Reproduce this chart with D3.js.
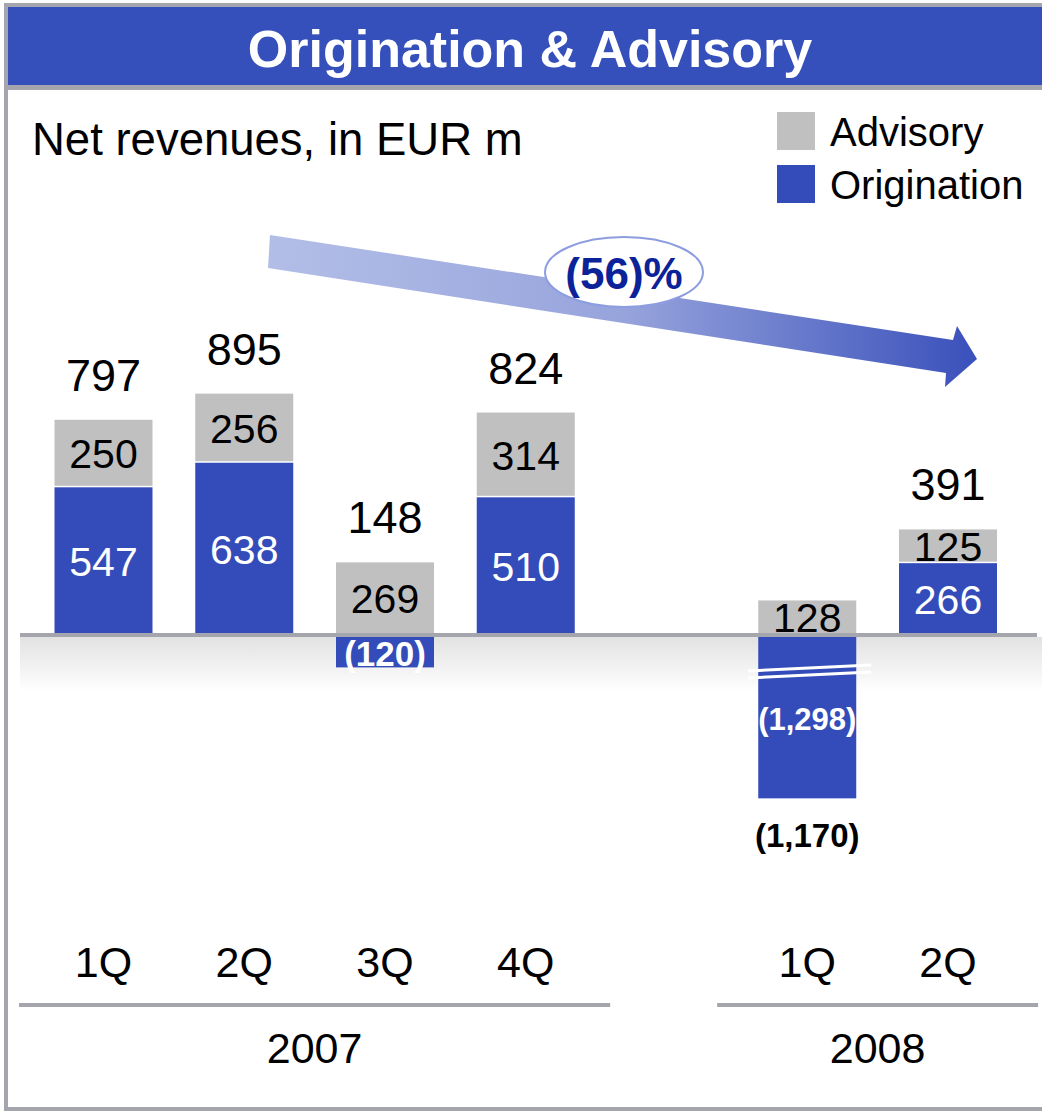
<!DOCTYPE html>
<html>
<head>
<meta charset="utf-8">
<script src="https://cdn.jsdelivr.net/npm/d3@7"></script>
<style>
  body { margin: 0; background: #fff; }
  svg { display: block; font-family: "Liberation Sans", Arial, sans-serif; }
</style>
</head>
<body>
<div id="chart"></div>
<script>
// data
var quarters = ["1Q", "2Q", "3Q", "4Q", "1Q", "2Q"];
var years = ["2007", "2007", "2007", "2007", "2008", "2008"];
var origination = [547, 638, -120, 510, -1298, 266];
var advisory = [250, 256, 269, 314, 128, 125];
var totals = [797, 895, 148, 824, -1170, 391];
var changeLabel = "(56)%";

var width = 1042, height = 1111;
var blue = "#344cba", grey = "#c0c0c0", frameGrey = "#a5a5ae";

var svg = d3.select("#chart").append("svg")
    .attr("width", width)
    .attr("height", height);

var defs = svg.append("defs");
var shade = defs.append("linearGradient").attr("id", "shade")
    .attr("x1", 0).attr("y1", 0).attr("x2", 0).attr("y2", 1);
shade.append("stop").attr("offset", 0).attr("stop-color", "#e2e2e2");
shade.append("stop").attr("offset", 1).attr("stop-color", "#ffffff");
var arrowGrad = defs.append("linearGradient").attr("id", "arrowGrad")
    .attr("x1", 0).attr("y1", 0).attr("x2", 1).attr("y2", 0);
arrowGrad.append("stop").attr("offset", 0).attr("stop-color", "#b3bee7");
arrowGrad.append("stop").attr("offset", 0.5).attr("stop-color", "#97a4dc");
arrowGrad.append("stop").attr("offset", 1).attr("stop-color", "#3a50bb");

// slot keys, one empty slot between the years
var keys = quarters.map(function (q, i) { return years[i] + " " + q; });
var slotKeys = keys.slice(0, 4).concat(["gap"], keys.slice(4));

var x = d3.scalePoint().domain(slotKeys).range([103.5, 948]);
var barW = 98;

// broken axis: values below breakAt are clamped
var breakAt = -605;
var y = d3.scaleLinear().domain([breakAt, 1000]).range([635 + 605 * 0.27, 365]).clamp(true);

// frame + title
svg.append("rect").attr("x", 6).attr("y", 5).attr("width", width).attr("height", 1104)
    .attr("fill", "none").attr("stroke", frameGrey).attr("stroke-width", 4);
svg.append("rect").attr("x", 8).attr("y", 7).attr("width", width).attr("height", 78)
    .attr("fill", "#3550bb");
svg.append("line").attr("x1", 8).attr("x2", width).attr("y1", 87.5).attr("y2", 87.5)
    .attr("stroke", frameGrey).attr("stroke-width", 5);
svg.append("text").attr("x", 530).attr("y", 67)
    .attr("text-anchor", "middle").attr("fill", "#fff")
    .attr("font-size", 52).attr("font-weight", "bold")
    .text("Origination & Advisory");

svg.append("text").attr("x", 32).attr("y", 155)
    .attr("font-size", 45.5).text("Net revenues, in EUR m");

// legend
var legend = [["Advisory", grey], ["Origination", blue]];
legend.forEach(function (l, i) {
    var g = svg.append("g").attr("transform", "translate(777," + (112 + i * 53) + ")");
    g.append("rect").attr("width", 38).attr("height", 38).attr("fill", l[1]);
    g.append("text").attr("x", 53).attr("y", 34).attr("font-size", 40).text(l[0]);
});

// shading below zero line
svg.append("rect").attr("x", 20).attr("y", y(0) + 2).attr("width", width - 20).attr("height", 55)
    .attr("fill", "url(#shade)");

// trend arrow
var arrowPts = [[270, 235], [953, 340], [957, 326], [977, 359], [945, 387], [946, 373], [268, 268]];
svg.append("path").attr("d", d3.line()(arrowPts) + "Z").attr("fill", "url(#arrowGrad)");
svg.append("ellipse").attr("cx", 624).attr("cy", 272).attr("rx", 79).attr("ry", 35)
    .attr("fill", "#fff").attr("stroke", "#8d9de0").attr("stroke-width", 2);
svg.append("text").attr("x", 624).attr("y", 289).attr("text-anchor", "middle")
    .attr("font-size", 44).attr("font-weight", "bold").attr("fill", "#0b2299")
    .text(changeLabel);

// bars
var rows = keys.map(function (k, i) {
    var o = origination[i], a = advisory[i];
    var oLo = Math.min(0, o), oHi = Math.max(0, o);
    var aLo = Math.max(0, o), aHi = aLo + a;
    return { key: k, o: o, a: a, t: totals[i], oLo: oLo, oHi: oHi, aLo: aLo, aHi: aHi };
});

var bars = svg.append("g").selectAll("g").data(rows).enter().append("g")
    .attr("transform", function (d) { return "translate(" + (x(d.key) - barW / 2) + ",0)"; });

bars.append("rect")
    .attr("y", function (d) { return y(d.oHi); })
    .attr("height", function (d) { return y(d.oLo) - y(d.oHi); })
    .attr("width", barW).attr("fill", blue);
bars.append("rect")
    .attr("y", function (d) { return y(d.aHi); })
    .attr("height", function (d) { return y(d.aLo) - y(d.aHi) - (d.o > 0 ? 1.5 : 0); })
    .attr("width", barW).attr("fill", grey);

// zero line
svg.append("line").attr("x1", 20).attr("x2", 1037).attr("y1", y(0)).attr("y2", y(0))
    .attr("stroke", frameGrey).attr("stroke-width", 4);

// break marks on clamped bars
bars.filter(function (d) { return d.o < breakAt; }).each(function () {
    var g = d3.select(this);
    [0, 7].forEach(function (off) {
        g.append("line").attr("x1", -10).attr("x2", barW + 15)
            .attr("y1", y(0) + 36 + off).attr("y2", y(0) + 30 + off)
            .attr("stroke", "#fff").attr("stroke-width", 3);
    });
});

var fmt = d3.format(",");
function neg(v) { return "(" + fmt(-v) + ")"; }

// segment labels
bars.append("text")
    .attr("x", barW / 2).attr("text-anchor", "middle")
    .attr("y", function (d) { return (y(d.aLo) + y(d.aHi)) / 2; })
    .attr("dy", "0.36em").attr("font-size", 41).attr("fill", "#000")
    .text(function (d) { return fmt(d.a); });
bars.append("text")
    .attr("x", barW / 2).attr("text-anchor", "middle")
    .attr("y", function (d) { return (y(d.oLo) + y(d.oHi)) / 2 + (d.o < 0 ? 2 : 0); })
    .attr("dy", "0.36em").attr("fill", "#fff")
    .attr("font-size", function (d) { return d.o < 0 ? (d.o < breakAt ? 31 : 35) : 41; })
    .attr("font-weight", function (d) { return d.o < 0 ? "bold" : null; })
    .text(function (d) { return d.o < 0 ? neg(d.o) : fmt(d.o); });

// totals
bars.append("text")
    .attr("x", barW / 2).attr("text-anchor", "middle")
    .attr("y", function (d) { return d.t >= 0 ? y(d.aHi) - 29 : y(d.oLo) + 49; })
    .attr("font-size", function (d) { return d.t >= 0 ? 45 : 33; })
    .attr("font-weight", function (d) { return d.t >= 0 ? null : "bold"; })
    .text(function (d) { return d.t >= 0 ? fmt(d.t) : neg(d.t); });

// category axis
var axisG = svg.append("g");
keys.forEach(function (k, i) {
    axisG.append("text").attr("x", x(k)).attr("y", 977).attr("text-anchor", "middle")
        .attr("font-size", 43).text(quarters[i]);
});
var step = x.step();
d3.groups(keys, function (k) { return k.split(" ")[0]; }).forEach(function (grp) {
    var pad = grp[0] === "2007" ? 0.6 : 0.64;
    var x0 = x(grp[1][0]) - step * pad, x1 = x(grp[1][grp[1].length - 1]) + step * pad;
    axisG.append("line").attr("x1", x0).attr("x2", x1).attr("y1", 1005).attr("y2", 1005)
        .attr("stroke", frameGrey).attr("stroke-width", 4);
    axisG.append("text").attr("x", (x0 + x1) / 2).attr("y", 1063).attr("text-anchor", "middle")
        .attr("font-size", 43).text(grp[0]);
});
</script>
</body>
</html>
